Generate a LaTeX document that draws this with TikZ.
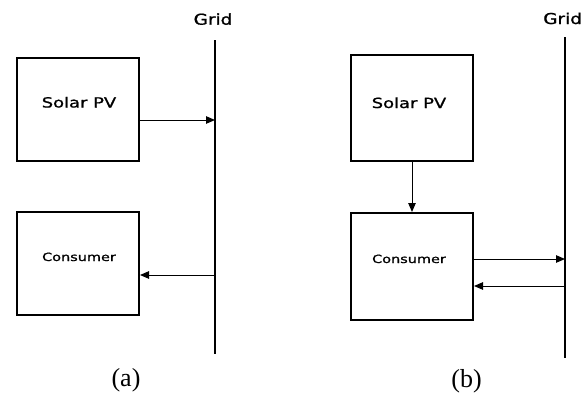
\documentclass[tikz,border=0pt]{standalone}
\usepackage{fontspec}
\setmainfont{Liberation Serif}
\newfontfamily\boxfont[FakeBold=1]{DejaVu Sans}
\usetikzlibrary{arrows.meta}
\tikzset{
  unitbox/.style={draw=black, line width=2pt, minimum width=122pt, inner sep=0pt},
  boxlabel/.style={anchor=base, inner sep=0pt, font=\boxfont\fontsize{14}{16}\selectfont, xscale=1.28, transform shape},
  conlabel/.style={anchor=base, inner sep=0pt, font=\boxfont\fontsize{11.3}{14}\selectfont, xscale=1.28, transform shape},
  gridlabel/.style={inner sep=0pt, font=\boxfont\fontsize{15}{17}\selectfont, xscale=1.23, transform shape},
  captionlabel/.style={anchor=base, inner sep=0pt, font=\fontsize{26}{30}\selectfont},
  gridline/.style={line width=1.4pt},
  flow/.style={line width=1pt, -{Triangle[length=9pt,width=7.5pt]}}
}
\begin{document}
\begin{tikzpicture}[x=1pt,y=-1pt]
\useasboundingbox (0,0) rectangle (584,394);
% ---------- (a) ----------
\node[unitbox, minimum height=103pt] (pvA) at (78,109.5) {};
\node[unitbox, minimum height=103pt] (conA) at (78,263.5) {};
\node[boxlabel] (pvAt) at (79,107.5) {Solar PV};
\node[conlabel] (conAt) at (79,261) {Consumer};
\coordinate (gAtop) at (215,40);
\coordinate (gAbot) at (215,354);
\draw[gridline] (gAtop) -- (gAbot);
\node[gridlabel, anchor=base] (gridA) at (213,24.7) {Grid};
\coordinate (gA1) at (215,120);
\coordinate (gA2) at (215,275);
\draw[flow] (gA1 -| pvA.east) -- (gA1);
\draw[flow] (gA2) -- (gA2 -| conA.east);
\node[captionlabel] (capA) at (126,386.5) {(a)};
% ---------- (b) ----------
\node[unitbox, minimum height=106pt] (pvB) at (412,108) {};
\node[unitbox, minimum height=107pt] (conB) at (412,266.5) {};
\node[boxlabel] (pvBt) at (409,108) {Solar PV};
\node[conlabel] (conBt) at (409,263) {Consumer};
\coordinate (gBtop) at (565,37);
\coordinate (gBbot) at (565,358);
\draw[gridline] (gBtop) -- (gBbot);
\node[gridlabel, anchor=base west] (gridB) at (543,24) {Grid};
\coordinate (gB1) at (565,259);
\coordinate (gB2) at (565,286);
\draw[flow] (pvB.south) -- (conB.north);
\draw[flow] (gB1 -| conB.east) -- (gB1);
\draw[flow] (gB2) -- (gB2 -| conB.east);
\node[captionlabel] (capB) at (466.5,387) {(b)};
\end{tikzpicture}
\end{document}
